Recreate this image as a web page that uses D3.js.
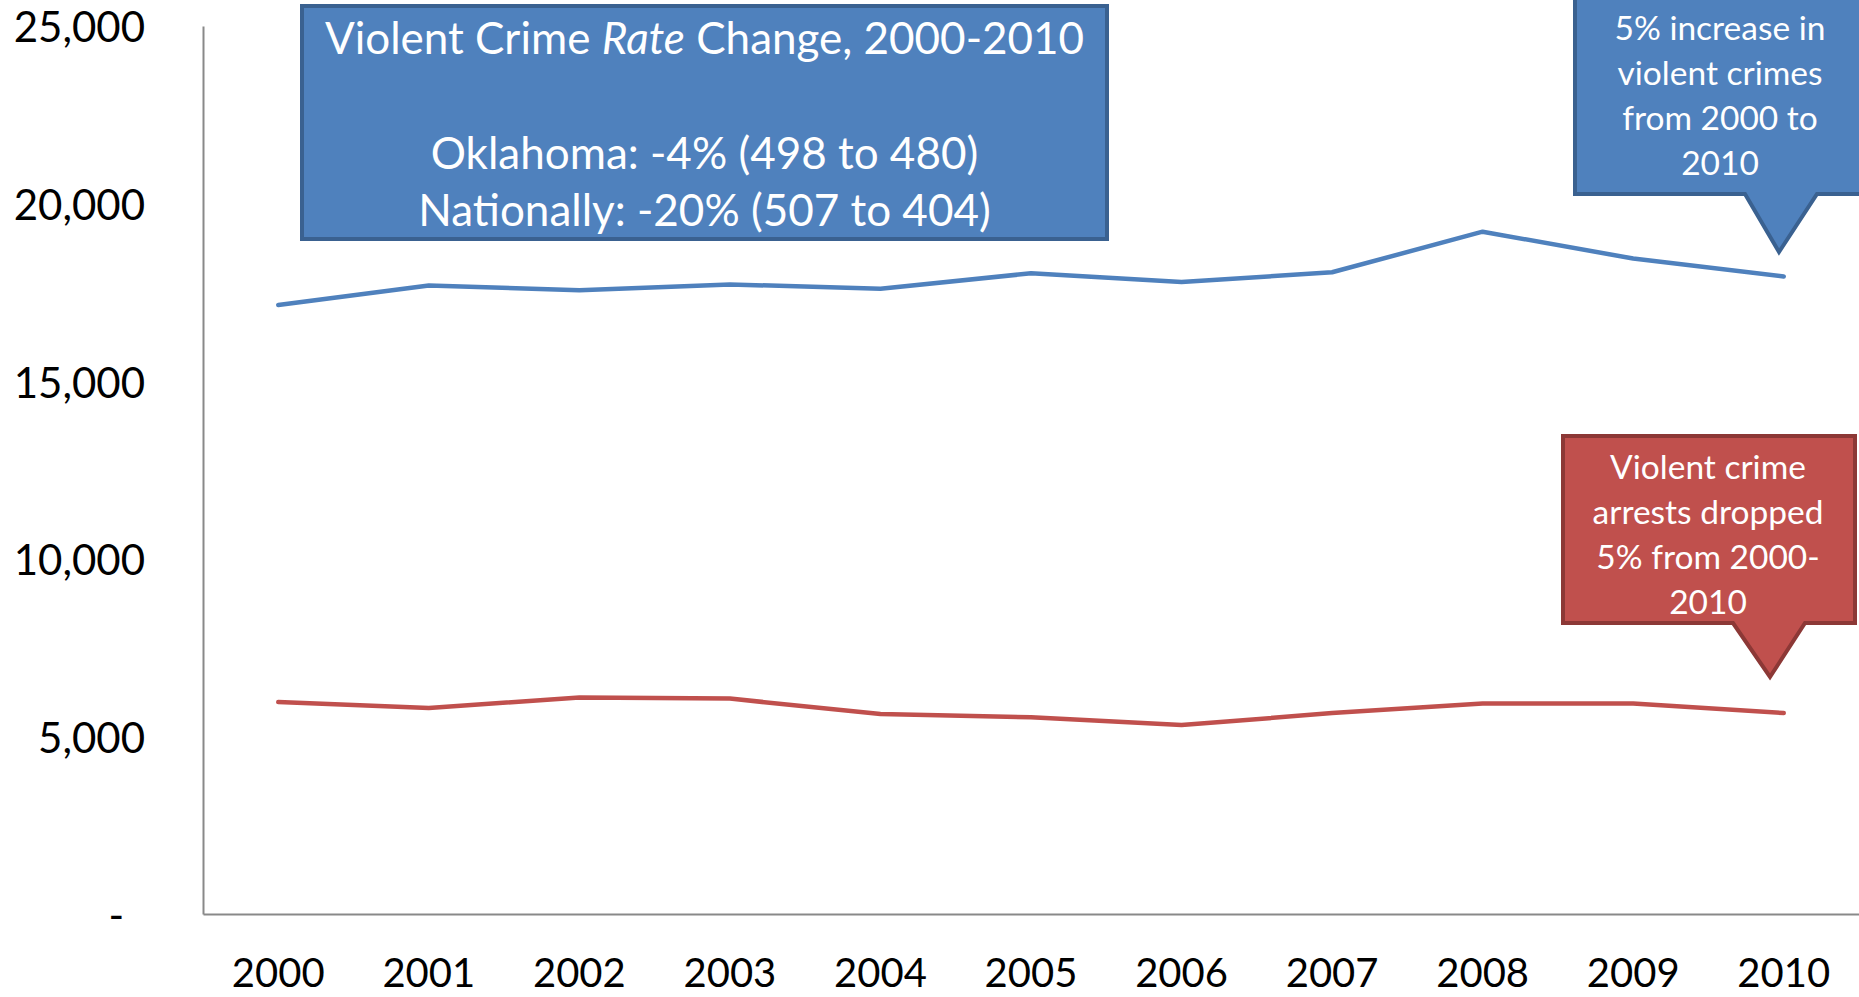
<!DOCTYPE html>
<html>
<head>
<meta charset="utf-8">
<script src="https://cdn.jsdelivr.net/npm/d3@7"></script>
<style>
  html, body { margin: 0; padding: 0; background: #fff; overflow: hidden; }
  svg { display: block; font-family: Lato, "Open Sans", sans-serif; }
</style>
</head>
<body>
<svg id="chart" width="1859" height="997"></svg>
<script>
const years = ["2000","2001","2002","2003","2004","2005","2006","2007","2008","2009","2010"];
const violentCrimes = [17145, 17697, 17562, 17725, 17601, 18038, 17793, 18066, 19209, 18454, 17950];
const violentArrests = [5966, 5802, 6092, 6064, 5628, 5541, 5318, 5656, 5929, 5929, 5656];
const yTicks = [0, 5000, 10000, 15000, 20000, 25000];

const titleLines = [
  [{t: "Violent Crime "}, {t: "Rate", italic: true}, {t: " Change, 2000-2010"}],
  [],
  [{t: "Oklahoma: -4% (498 to 480)"}],
  [{t: "Nationally: -20% (507 to 404)"}]
];
const crimeNote = ["5% increase in", "violent crimes", "from 2000 to", "2010"];
const arrestNote = ["Violent crime", "arrests dropped", "5% from 2000-", "2010"];

const W = 1859, H = 997;
const plot = {left: 203, right: 1859, top: 26, bottom: 914};

const svg = d3.select("#chart");

const x = d3.scaleBand().domain(years).range([plot.left, plot.right]);
const y = d3.scaleLinear().domain([0, 25000]).range([plot.bottom, plot.top]);
const cx = d => x(d) + x.bandwidth() / 2;

// Axes
const fmt = d3.format(",");
const yAxis = d3.axisLeft(y).tickValues(yTicks).tickSize(0).tickPadding(58)
  .tickFormat(d => d === 0 ? "-" : fmt(d));
const gy = svg.append("g").attr("transform", `translate(${plot.left},0)`).call(yAxis);
gy.select(".domain").attr("stroke", "#898989").attr("stroke-width", 2);
gy.selectAll("text").attr("font-size", 42).attr("fill", "#000").attr("font-family", "Lato, sans-serif")
  .attr("dy", "0.38em");
gy.selectAll(".tick").filter(d => d === 0).select("text").attr("dx", -21);

const xAxis = d3.axisBottom(x).tickSize(0).tickPadding(45);
const gx = svg.append("g").attr("transform", `translate(0,${plot.bottom})`).call(xAxis);
gx.select(".domain").attr("stroke", "#898989").attr("stroke-width", 2);
gx.selectAll("text").attr("font-size", 40).attr("fill", "#000").attr("font-family", "Lato, sans-serif");

// Lines
const line = d3.line().x((d, i) => cx(years[i])).y(d => y(d));
svg.append("path").datum(violentCrimes).attr("d", line)
  .attr("fill", "none").attr("stroke", "#4F81BD").attr("stroke-width", 4.5)
  .attr("stroke-linejoin", "round").attr("stroke-linecap", "round");
svg.append("path").datum(violentArrests).attr("d", line)
  .attr("fill", "none").attr("stroke", "#C0504D").attr("stroke-width", 4.5)
  .attr("stroke-linejoin", "round").attr("stroke-linecap", "round");

// Big title box
const box = {x0: 302, x1: 1107, y0: 6, y1: 239};
svg.append("rect").attr("x", box.x0).attr("y", box.y0)
  .attr("width", box.x1 - box.x0).attr("height", box.y1 - box.y0)
  .attr("fill", "#4F81BD").attr("stroke", "#3A6190").attr("stroke-width", 4);
const titleFont = 44, titleLH = 57.5, titleY0 = 38;
titleLines.forEach((segs, i) => {
  if (!segs.length) return;
  const t = svg.append("text").attr("x", (box.x0 + box.x1) / 2)
    .attr("y", titleY0 + i * titleLH + titleFont * 0.36)
    .attr("text-anchor", "middle").attr("fill", "#fff").attr("font-size", titleFont);
  segs.forEach(s => t.append("tspan").text(s.t).attr("font-style", s.italic ? "italic" : "normal"));
});

// Callouts
function callout(c) {
  const p = d3.path();
  p.moveTo(c.x0, c.y0);
  p.lineTo(c.x1, c.y0);
  p.lineTo(c.x1, c.y1);
  p.lineTo(c.bR, c.y1);
  p.lineTo(c.tipX, c.tipY);
  p.lineTo(c.bL, c.y1);
  p.lineTo(c.x0, c.y1);
  p.closePath();
  svg.append("path").attr("d", p.toString()).attr("fill", c.fill)
    .attr("stroke", c.stroke).attr("stroke-width", 4).attr("stroke-linejoin", "miter");
  c.lines.forEach((l, i) => {
    svg.append("text").attr("x", c.tx).attr("y", c.ty0 + i * c.lh + c.font * 0.36)
      .attr("text-anchor", "middle").attr("fill", "#fff").attr("font-size", c.font).text(l);
  });
}
callout({x0: 1575, x1: 1875, y0: -20, y1: 194, bL: 1745, bR: 1817, tipX: 1779, tipY: 252,
  fill: "#4F81BD", stroke: "#3A6190", lines: crimeNote, tx: 1720, ty0: 28, lh: 45, font: 33.5});
callout({x0: 1563, x1: 1855, y0: 436, y1: 623, bL: 1733, bR: 1805, tipX: 1770, tipY: 677,
  fill: "#C0504D", stroke: "#8C3836", lines: arrestNote, tx: 1708, ty0: 467, lh: 45, font: 33.5});
</script>
</body>
</html>
